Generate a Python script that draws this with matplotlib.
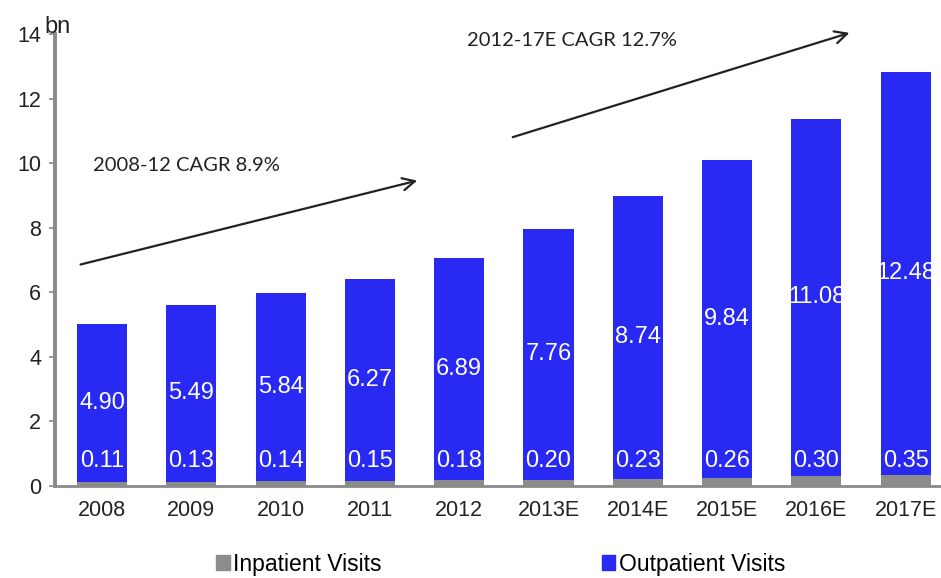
import numpy as np
import matplotlib
matplotlib.use("Agg")
import matplotlib.pyplot as plt
from matplotlib.patches import Patch

years = ["2008", "2009", "2010", "2011", "2012",
         "2013E", "2014E", "2015E", "2016E", "2017E"]
inpatient = [0.11, 0.13, 0.14, 0.15, 0.18, 0.20, 0.23, 0.26, 0.30, 0.35]
outpatient = [4.90, 5.49, 5.84, 6.27, 6.89, 7.76, 8.74, 9.84, 11.08, 12.48]
yticks = [0, 2, 4, 6, 8, 10, 12, 14]

BLUE = "#2929F4"
GREY = "#8C8C8C"
AXIS = "#8A8A8A"

plt.rcParams["font.family"] = ["Liberation Sans", "DejaVu Sans"]

fig = plt.figure(figsize=(9.41, 5.78), dpi=100)
ax = fig.add_axes([55 / 941, 92 / 578, 1 - 55 / 941, 452 / 578])

x = np.arange(len(years))
w = 0.56
ax.bar(x, inpatient, width=w, color=GREY)
ax.bar(x, outpatient, width=w, bottom=inpatient, color=BLUE)

# value labels (white text, runs off the bar edge like the original)
for xi, ip, op in zip(x, inpatient, outpatient):
    ax.text(xi, ip + op / 2, f"{op:.2f}", ha="center", va="center",
            color="white", fontsize=17)
    ax.text(xi, 0.78, f"{ip:.2f}", ha="center", va="center",
            color="white", fontsize=17)

ax.set_xlim(-0.526, 9.395)
ax.set_ylim(0, 14)
ax.set_xticks(x)
ax.set_xticklabels(years, fontsize=15.5, color="#222222")
ax.set_yticks(yticks)
ax.set_yticklabels([str(t) for t in yticks], fontsize=15.5, color="#222222")
ax.tick_params(axis="x", length=0, pad=10)
ax.tick_params(axis="y", length=4, width=1.2, color=AXIS, pad=6)

for s in ["top", "right"]:
    ax.spines[s].set_visible(False)
ax.spines["left"].set_color(AXIS)
ax.spines["left"].set_linewidth(2.8)
ax.spines["bottom"].set_color(AXIS)
ax.spines["bottom"].set_linewidth(2.0)

ax.text(0.003, 1.003, "bn", transform=ax.transAxes, ha="center",
        va="baseline", fontsize=17, color="#222222")

# CAGR arrows and labels
cagr_font = ["Lato", "DejaVu Sans"]
ax.annotate("", xy=(3.56, 9.48), xytext=(-0.27, 6.84),
            arrowprops=dict(arrowstyle="->", color="#222222", lw=1.6,
                            mutation_scale=22),
            annotation_clip=False)
ax.annotate("", xy=(8.40, 14.06), xytext=(4.57, 10.78),
            arrowprops=dict(arrowstyle="->", color="#222222", lw=1.6,
                            mutation_scale=22),
            annotation_clip=False)
ax.text(-0.10, 9.94, "2008-12 CAGR 8.9%", ha="left", va="center",
        fontsize=14.5, family=cagr_font, color="#222222")
ax.text(4.09, 13.81, "2012-17E CAGR 12.7%", ha="left", va="center",
        fontsize=14.5, family=cagr_font, color="#222222")

handles = [Patch(color=GREY, label="Inpatient Visits"),
           Patch(color=BLUE, label="Outpatient Visits")]
fig.legend(handles=handles, loc="center", bbox_to_anchor=(0.532, 0.024),
           ncol=2, frameon=False, fontsize=16.5, handlelength=0.6,
           handleheight=0.6, handletextpad=0.15, columnspacing=9.6)

fig.savefig("out.png", dpi=100)
